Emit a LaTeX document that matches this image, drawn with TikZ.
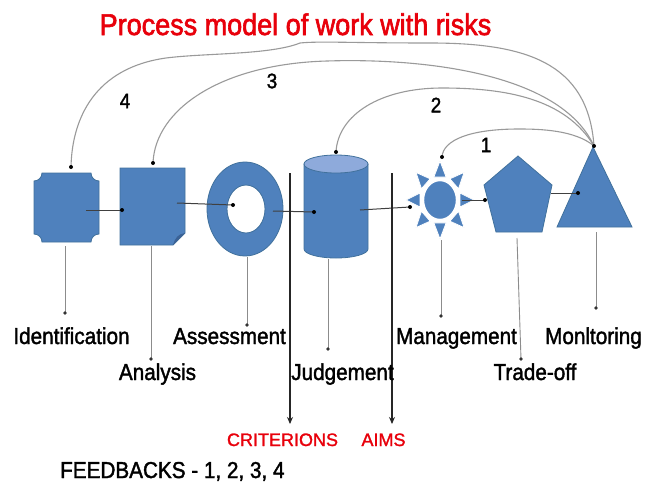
\documentclass[tikz,border=0pt]{standalone}
\usepackage{fontspec}
\setmainfont{Liberation Sans}
\newfontfamily\stretchfont[FakeStretch=0.9,FakeBold=1.6]{Liberation Sans}
\newfontfamily\titlefont[FakeStretch=0.9,FakeBold=2]{Liberation Sans}
\newfontfamily\redfont[FakeBold=1.4]{Liberation Sans}
\usetikzlibrary{arrows.meta}
\definecolor{shapeblue}{HTML}{4F81BD}
\definecolor{shapeedge}{HTML}{41719C}
\definecolor{toplight}{HTML}{8EAADB}
\definecolor{folddark}{HTML}{3B6296}
\definecolor{titlered}{HTML}{E8000B}
\definecolor{arcgray}{HTML}{9A9A9A}
\definecolor{leadgray}{HTML}{8C8C8C}
\tikzset{
  blueshape/.style={fill=shapeblue, draw=shapeedge, line width=0.8pt},
  feedarc/.style={draw=arcgray, line width=1.1pt},
  leader/.style={draw=leadgray, line width=0.9pt},
  flowline/.style={draw=black!75, line width=1pt},
  limitline/.style={draw=black!85, line width=2.4pt, -{Stealth[length=7pt,width=6pt]}},
  lab/.style={inner sep=0pt, anchor=base, font=\stretchfont\fontsize{23}{23}\selectfont},
  num/.style={inner sep=0pt, font=\stretchfont\fontsize{21}{21}\selectfont},
  redlab/.style={inner sep=0pt, anchor=base, text=titlered, font=\redfont\fontsize{18}{18}\selectfont},
  titlelab/.style={inner sep=0pt, anchor=base, text=titlered, font=\titlefont\fontsize{30}{30}\selectfont},
}
\begin{document}
\begin{tikzpicture}[x=1pt,y=-1pt]
\useasboundingbox[fill=white] (0,0) rectangle (656,482);

% ---------- title ----------
\node[titlelab] (title) at (295.5,35) {Process model of work with risks};

% ---------- shapes ----------
% identification: plaque (concave corners)
\path[blueshape] (42,173) -- (91,173) arc [start angle=180, end angle=90, radius=8]
  -- (99,234) arc [start angle=270, end angle=180, radius=8]
  -- (42,242) arc [start angle=0, end angle=-90, radius=8]
  -- (34,181) arc [start angle=90, end angle=0, radius=8] -- cycle;
% analysis: folded corner
\path[blueshape] (120,168) -- (185,168) -- (185,233) -- (173,245) -- (120,245) -- cycle;
\path[fill=folddark] (185,233) .. controls (178,234) and (175,238) .. (173,245) -- cycle;
% assessment: ring
\path[blueshape, even odd rule] (245,209) ellipse [x radius=38, y radius=47]
  (246,209) ellipse [x radius=19, y radius=24];
% judgement: cylinder
\path[blueshape] (304,164) -- (304,249) arc [start angle=180, end angle=0, x radius=32, y radius=9]
  -- (368,164) -- cycle;
\path[fill=toplight, draw=shapeedge, line width=0.8pt] (336,164) ellipse [x radius=32, y radius=9];
% management: sun
\begin{scope}[shift={(440,200)}]
  \foreach \a in {0,45,...,315}{
    \path[fill=shapeblue, draw=white, line width=0.8pt]
      ({cos(\a)*34},{sin(\a)*39}) -- ({cos(\a+17)*21},{sin(\a+17)*24}) -- ({cos(\a-17)*21},{sin(\a-17)*24}) -- cycle;
  }
  \path[fill=shapeblue, draw=white, line width=1.4pt] (0,0) ellipse [x radius=16.5, y radius=19.5];
\end{scope}
% trade-off: pentagon
\path[blueshape] (518,156) -- (552,185) -- (542,232) -- (496,232) -- (484,185) -- cycle;
% monitoring: triangle
\path[blueshape] (593,147) -- (632,227) -- (557,227) -- cycle;

% ---------- connector end points ----------
\coordinate (f1a) at (86,210);  \coordinate (f1b) at (122,210);
\coordinate (f2a) at (177,203); \coordinate (f2b) at (233,205);
\coordinate (f3a) at (273,211); \coordinate (f3b) at (314,212);
\coordinate (f4a) at (360,210); \coordinate (f4b) at (410,207);
\coordinate (f5a) at (462,200); \coordinate (f5b) at (485,200);
\coordinate (f6a) at (551,193); \coordinate (f6b) at (578,193);

\foreach \s in {1,...,6}{
  \draw[flowline] (f\s a) -- (f\s b);
  \fill (f\s b) circle (2pt);
}

% ---------- leader lines ----------
\coordinate (l1a) at (65,246);  \coordinate (l1b) at (65,313);
\coordinate (l2a) at (151,246); \coordinate (l2b) at (151,359);
\coordinate (l3a) at (247,257); \coordinate (l3b) at (247,325);
\coordinate (l4a) at (328,259); \coordinate (l4b) at (328,349);
\coordinate (l5a) at (441,240); \coordinate (l5b) at (441,316);
\coordinate (l6a) at (517,238); \coordinate (l6b) at (521,359);
\coordinate (l7a) at (596,232); \coordinate (l7b) at (596,308);
\foreach \s in {1,...,7}{
  \draw[leader] (l\s a) -- (l\s b);
  \fill[black!80] (l\s b) circle (1.8pt);
}

% ---------- limit lines ----------
\coordinate (crA) at (290,173); \coordinate (crB) at (290,424);
\coordinate (aiA) at (392,173); \coordinate (aiB) at (392,424);
\draw[limitline] (crA) -- (crB);
\draw[limitline] (aiA) -- (aiB);

% ---------- feedback arcs ----------
\coordinate (apex) at (594,146);
\coordinate (e4) at (71,167);
\coordinate (e3) at (153,163);
\coordinate (e2) at (336,152);
\coordinate (e1) at (442,157);
\draw[feedarc] (apex) .. controls (588,62) and (525,43) .. (430,43)
  .. controls (350,43) and (320,41) .. (300,43)
  .. controls (270,55) and (205,53) .. (166,58)
  .. controls (95,68) and (72,118) .. (e4);
\draw[feedarc] (apex) .. controls (560,72) and (420,58) .. (327,61)
  .. controls (220,64) and (155,110) .. (e3);
\draw[feedarc] (apex) .. controls (565,98) and (505,88) .. (442,88)
  .. controls (380,88) and (338,115) .. (e2);
\draw[feedarc] (apex) .. controls (575,130) and (540,129) .. (519,129)
  .. controls (470,129) and (443,140) .. (e1);
\foreach \p in {apex,e1,e2,e3,e4}{ \fill (\p) circle (2pt); }

% ---------- numbers ----------
\node[num] (n4) at (125,101) {4};
\node[num] (n3) at (272,81) {3};
\node[num] (n2) at (436,105) {2};
\node[num] (n1) at (486,145) {1};

% ---------- labels ----------
\node[lab] (tIdent) at (71.5,344) {Identification};
\node[lab] (tAnal) at (157.5,380) {Analysis};
\node[lab] (tAssess) at (229.5,344) {Assessment};
\node[lab] (tJudge) at (342.5,380) {Judgement};
\node[lab] (tManage) at (456.5,344) {Management};
\node[lab] (tTrade) at (535,380) {Trade-off};
\node[lab] (tMonit) at (593.5,344) {Monltoring};

\node[redlab] (tCrit) at (282.5,446) {CRITERIONS};
\node[redlab] (tAims) at (383.5,446) {AIMS};
\node[lab, anchor=base west] (tFeed) at (60,478) {FEEDBACKS - 1, 2, 3, 4};
\end{tikzpicture}
\end{document}
